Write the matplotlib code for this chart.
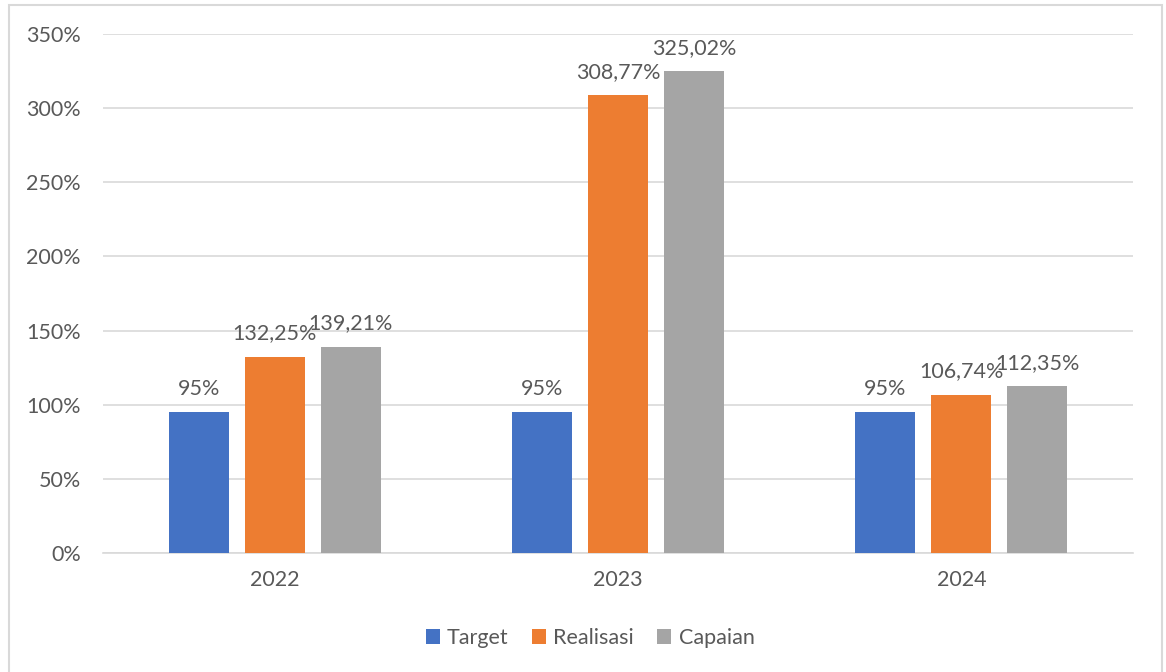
import matplotlib
matplotlib.use("Agg")
import matplotlib.pyplot as plt
from matplotlib.patches import Rectangle
import numpy as np

years = ["2022", "2023", "2024"]
series_names = ["Target", "Realisasi", "Capaian"]
target = [95, 95, 95]
realisasi = [132.25, 308.77, 106.74]
capaian = [139.21, 325.02, 112.35]
label_target = ["95%", "95%", "95%"]
label_realisasi = ["132,25%", "308,77%", "106,74%"]
label_capaian = ["139,21%", "325,02%", "112,35%"]
y_ticks = [0, 50, 100, 150, 200, 250, 300, 350]

colors = ["#4472C4", "#ED7D31", "#A5A5A5"]
text_color = "#595959"
fs = 15.5

plt.rcParams['font.family'] = ['Lato', 'DejaVu Sans']

fig = plt.figure(figsize=(11.66, 6.72), dpi=100)
W, H = 1166, 672
ax = fig.add_axes([103 / W, 1 - 553 / H, (1133 - 103) / W, (553 - 34) / H])

x = np.arange(len(years))
width = 60 / 343.3
step = 76 / 343.3
data = [target, realisasi, capaian]
labels = [label_target, label_realisasi, label_capaian]
for i, (vals, name, col, labs) in enumerate(zip(data, series_names, colors, labels)):
    pos = x + (i - 1) * step
    bars = ax.bar(pos, vals, width, color=col, label=name, zorder=3)
    for b, lab in zip(bars, labs):
        ax.text(b.get_x() + b.get_width() / 2, b.get_height() + 9, lab,
                ha="center", va="bottom", fontsize=fs, color=text_color, zorder=4)

ax.set_xlim(-0.5, 2.5)
ax.set_ylim(0, 350)
ax.set_yticks(y_ticks)
ax.set_yticklabels([f"{t}%" for t in y_ticks])
ax.set_xticks(x)
ax.set_xticklabels(years)
ax.tick_params(axis="both", length=0, labelsize=fs, labelcolor=text_color)
ax.tick_params(axis="y", pad=16)
ax.tick_params(axis="x", pad=12)
ax.grid(axis="y", color="#D9D9D9", linewidth=1.2, zorder=0)
for s in ["top", "right", "left"]:
    ax.spines[s].set_visible(False)
ax.spines["bottom"].set_color("#D9D9D9")
ax.spines["bottom"].set_linewidth(1.2)

leg = fig.legend(loc="center", bbox_to_anchor=(590 / W, 1 - 638 / H), ncol=3,
                 frameon=False, fontsize=fs, handlelength=0.65, handleheight=0.65,
                 handletextpad=0.33, columnspacing=1.1)
for t in leg.get_texts():
    t.set_color(text_color)

fig.patches.append(Rectangle((9 / W, -0.01), (1162 - 9) / W, 1 - 5 / H + 0.01,
                             transform=fig.transFigure, fill=False,
                             edgecolor="#D9D9D9", linewidth=1.5))

fig.savefig("out.png", dpi=100)
